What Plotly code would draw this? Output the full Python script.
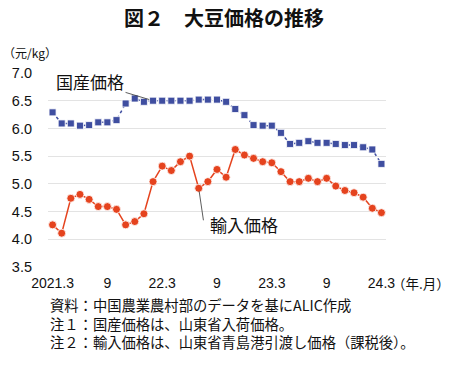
import plotly.graph_objects as go

months = [f"{y}.{m}" for y, m in
          [(2021, m) for m in range(3, 13)] + [(2022, m) for m in range(1, 13)] +
          [(2023, m) for m in range(1, 13)] + [(2024, m) for m in range(1, 4)]]

domestic = [6.29, 6.09, 6.09, 6.05, 6.06, 6.11, 6.11, 6.15, 6.45, 6.54,
            6.48, 6.50, 6.50, 6.50, 6.50, 6.50, 6.52, 6.52, 6.52, 6.48,
            6.35, 6.24, 6.06, 6.05, 6.05, 5.92, 5.72, 5.74, 5.77, 5.74,
            5.74, 5.72, 5.70, 5.70, 5.66, 5.62, 5.36]

imported = [4.26, 4.11, 4.74, 4.81, 4.72, 4.59, 4.59, 4.54, 4.26, 4.32,
            4.46, 5.04, 5.32, 5.24, 5.40, 5.50, 4.92, 5.04, 5.26, 5.12,
            5.62, 5.52, 5.46, 5.40, 5.38, 5.22, 5.04, 5.04, 5.10, 5.04,
            5.10, 4.96, 4.88, 4.84, 4.76, 4.56, 4.48]

tick_months = ["2021.3", "2021.9", "2022.3", "2022.9", "2023.3", "2023.9", "2024.3"]
tick_labels = ["2021.3", "9", "22.3", "9", "23.3", "9", "24.3"]
y_ticks = [3.5, 4.0, 4.5, 5.0, 5.5, 6.0, 6.5, 7.0]

notes = ["資料：中国農業農村部のデータを基にALIC作成",
         "注１：国産価格は、山東省入荷価格。",
         "注２：輸入価格は、山東省青島港引渡し価格（課税後）。"]

BLUE = "#3F4EA0"
RED = "#E5431E"
JP = "Noto Sans CJK JP"
NUM = "Liberation Sans, Arial, sans-serif"

# the page body has an 8px default margin; lay out in screen pixels and compensate
OFF = 8
SW, SH = 450, 365
W, H = SW - OFF, SH - OFF
plot_left, plot_right, plot_top, plot_bottom = 47.5, 386.5, 73, 267
L = plot_left - OFF
T = plot_top - OFF
R = W - (plot_right - OFF)
B = H - (plot_bottom - OFF)
pw, ph = W - L - R, H - T - B


def paper(px, py):
    return (px - OFF - L) / pw, (H - B - (py - OFF)) / ph


fig = go.Figure()
fig.add_trace(go.Scatter(
    x=months, y=domestic, mode="lines+markers", name="国産価格",
    line=dict(color=BLUE, width=1.5, dash="dot"),
    marker=dict(symbol="square", size=7, color=BLUE, line=dict(color="white", width=0.8)),
))
fig.add_trace(go.Scatter(
    x=months, y=imported, mode="lines+markers", name="輸入価格",
    line=dict(color=RED, width=1.5),
    marker=dict(symbol="circle", size=8, color=RED, line=dict(color="white", width=0.8)),
))

i_dom = months.index("2022.2")
i_imp = months.index("2022.7")

annotations = []


def fixed_text(text, px, py, size, xanchor="center", bold=False):
    x, y = paper(px, py)
    annotations.append(dict(text=f"<b>{text}</b>" if bold else text, xref="paper", yref="paper",
                            x=x, y=y, xanchor=xanchor, yanchor="middle", showarrow=False,
                            align="left", font=dict(family=JP, size=size, color="#111")))


fixed_text("図２　大豆価格の推移", 224, 18, 20, bold=True)
fixed_text("（元/kg）", 29, 53, 12)
fixed_text("（年.月）", 422, 283, 13.5)

annotations.append(dict(text="国産価格", x=i_dom, y=domestic[i_dom], ax=-63, ay=-19,
                        showarrow=True, arrowhead=0, arrowwidth=0.8, arrowcolor="#333",
                        standoff=4, font=dict(family=JP, size=17, color="#111")))
annotations.append(dict(text=" ", x=i_imp, y=imported[i_imp], ax=5, ay=34,
                        showarrow=True, arrowhead=0, arrowwidth=0.8, arrowcolor="#333",
                        standoff=3, font=dict(size=1)))
annotations.append(dict(text="輸入価格", x=i_imp, y=imported[i_imp], xanchor="left",
                        yanchor="middle", xshift=9, yshift=-36, showarrow=False,
                        font=dict(family=JP, size=17, color="#111")))

fixed_text("<br>".join(notes), 47, 322.5, 14.3, xanchor="left")

fig.update_layout(
    width=W, height=H,
    margin=dict(l=L, r=R, t=T, b=B, autoexpand=False),
    paper_bgcolor="white", plot_bgcolor="white",
    showlegend=False,
    annotations=annotations,
    font=dict(family=NUM, color="#111"),
)
fig.update_xaxes(
    type="category", range=[-0.5, len(months) - 0.5],
    tickmode="array", tickvals=tick_months, ticktext=tick_labels,
    showgrid=False, showline=False, ticks="", zeroline=False,
    ticklabelstandoff=6,
    tickfont=dict(family=NUM, size=14, color="#111"),
)
fig.update_yaxes(
    range=[3.5, 7.0], tickmode="array", tickvals=y_ticks,
    ticktext=[f"{v:.1f}" for v in y_ticks],
    showgrid=True, gridcolor="#e3e3e3", gridwidth=1, zeroline=False, showline=False,
    ticks="", ticklabelstandoff=15,
    tickfont=dict(family=NUM, size=14.5, color="#111"),
)

fig.write_html("out.html")
